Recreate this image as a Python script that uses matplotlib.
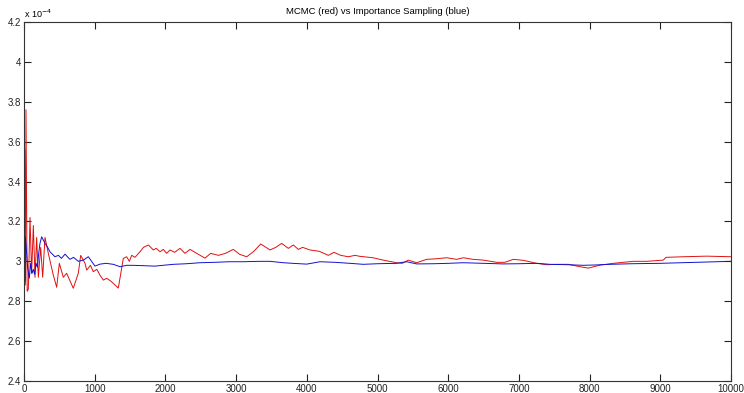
import matplotlib
matplotlib.use("Agg")
import matplotlib.pyplot as plt

# values, y in units of 1e-4
mcmc_x = [0, 10, 20, 28, 45, 61, 85, 108, 132, 156, 179, 203, 236, 264, 297, 344, 415, 462,
          500, 556, 603, 697, 768, 802, 863, 887, 940, 980, 1030, 1075, 1122, 1170, 1230,
          1334, 1405, 1452, 1490, 1523, 1570, 1641, 1690, 1759, 1829, 1870, 1924, 1970,
          2018, 2065, 2130, 2206, 2277, 2348, 2443, 2560, 2640, 2750, 2850, 2960, 3050,
          3150, 3250, 3348, 3480, 3560, 3645, 3739, 3809, 3880, 3941, 4045, 4180, 4304,
          4385, 4480, 4587, 4682, 4752, 4936, 5082, 5271, 5350, 5436, 5554, 5695, 5837,
          5978, 6120, 6214, 6350, 6497, 6686, 6800, 6921, 7062, 7251, 7393, 7534, 7700,
          7864, 7982, 8147, 8335, 8618, 8807, 9042, 9080, 9326, 9656, 10000]
mcmc_y = [2.50, 3.56, 2.90, 3.76, 2.85, 2.86, 3.22, 2.94, 3.18, 2.92, 3.12, 2.92, 3.07, 2.92,
          3.12, 3.04, 2.93, 2.87, 2.99, 2.92, 2.94, 2.865, 2.94, 3.03, 2.99, 2.956, 2.98,
          2.948, 2.96, 2.93, 2.906, 2.915, 2.90, 2.866, 3.015, 3.023, 3.00, 3.03, 3.02,
          3.048, 3.07, 3.082, 3.057, 3.065, 3.048, 3.06, 3.04, 3.057, 3.045, 3.065, 3.04,
          3.06, 3.04, 3.016, 3.04, 3.03, 3.04, 3.06, 3.035, 3.023, 3.05, 3.087, 3.057,
          3.07, 3.09, 3.065, 3.082, 3.06, 3.07, 3.057, 3.05, 3.03, 3.045, 3.03, 3.023,
          3.03, 3.025, 3.018, 3.006, 2.993, 2.99, 3.006, 2.993, 3.01, 3.013, 3.018, 3.01,
          3.018, 3.01, 3.006, 2.995, 2.995, 3.01, 3.005, 2.99, 2.983, 2.985, 2.985, 2.973,
          2.966, 2.981, 2.99, 3.0, 3.0, 3.006, 3.02, 3.023, 3.026, 3.023]

is_x = [0, 5, 12, 20, 28, 50, 75, 94, 113, 132, 150, 170, 189, 208, 226, 250, 297, 330, 368,
        438, 486, 530, 580, 650, 700, 769, 840, 910, 1004, 1075, 1160, 1263, 1358, 1450,
        1546, 1700, 1850, 2112, 2300, 2489, 2700, 2900, 3100, 3338, 3480, 3668, 3800, 3998,
        4187, 4400, 4611, 4799, 5000, 5271, 5413, 5554, 5800, 6000, 6214, 6500, 6780, 7000,
        7251, 7440, 7700, 7911, 8100, 8289, 8600, 8996, 9300, 9600, 10000]
is_y = [2.89, 3.048, 2.88, 3.123, 3.09, 2.973, 2.915, 2.99, 2.94, 2.96, 2.935, 2.99, 2.97,
        3.04, 3.09, 3.123, 3.09, 3.073, 3.048, 3.023, 3.03, 3.015, 3.036, 3.01, 3.02, 3.0,
        3.006, 3.023, 2.976, 2.986, 2.99, 2.985, 2.973, 2.98, 2.98, 2.978, 2.976, 2.985,
        2.988, 2.993, 2.995, 2.998, 2.998, 3.0, 3.0, 2.993, 2.99, 2.986, 2.998, 2.995,
        2.99, 2.985, 2.988, 2.99, 2.998, 2.987, 2.988, 2.99, 2.993, 2.99, 2.987, 2.988,
        2.99, 2.985, 2.983, 2.98, 2.982, 2.985, 2.988, 2.99, 2.993, 2.996, 3.0]

x_ticks = list(range(0, 10001, 1000))
y_ticks = [2.4, 2.6, 2.8, 3.0, 3.2, 3.4, 3.6, 3.8, 4.0, 4.2]
y_labels = ["2.4", "2.6", "2.8", "3", "3.2", "3.4", "3.6", "3.8", "4", "4.2"]

plt.rcParams['font.family'] = ['Liberation Sans', 'DejaVu Sans']

fig = plt.figure(figsize=(7.44, 3.93), dpi=100)
ax = fig.add_axes([24 / 744, 12 / 393, 707 / 744, 359 / 393])

ax.plot(mcmc_x, mcmc_y, color="#e01010", lw=0.7)
ax.plot(is_x, is_y, color="#1010d0", lw=0.7)

ax.set_xlim(0, 10000)
ax.set_ylim(2.4, 4.2)
ax.set_xticks(x_ticks)
ax.set_xticklabels([str(t) for t in x_ticks])
ax.set_yticks(y_ticks)
ax.set_yticklabels(y_labels)
ax.tick_params(direction="in", length=5, width=0.8, labelsize=7, pad=2,
               top=True, right=True, colors="#222222")
for s in ax.spines.values():
    s.set_linewidth(0.8)
    s.set_color("#333333")

ax.set_title("MCMC (red) vs Importance Sampling (blue)", fontsize=6.8, pad=6)
ax.text(0.0, 1.005, r"x 10$^{-4}$", transform=ax.transAxes, fontsize=6.5,
        ha="left", va="bottom")

fig.savefig("out.png", dpi=100)
